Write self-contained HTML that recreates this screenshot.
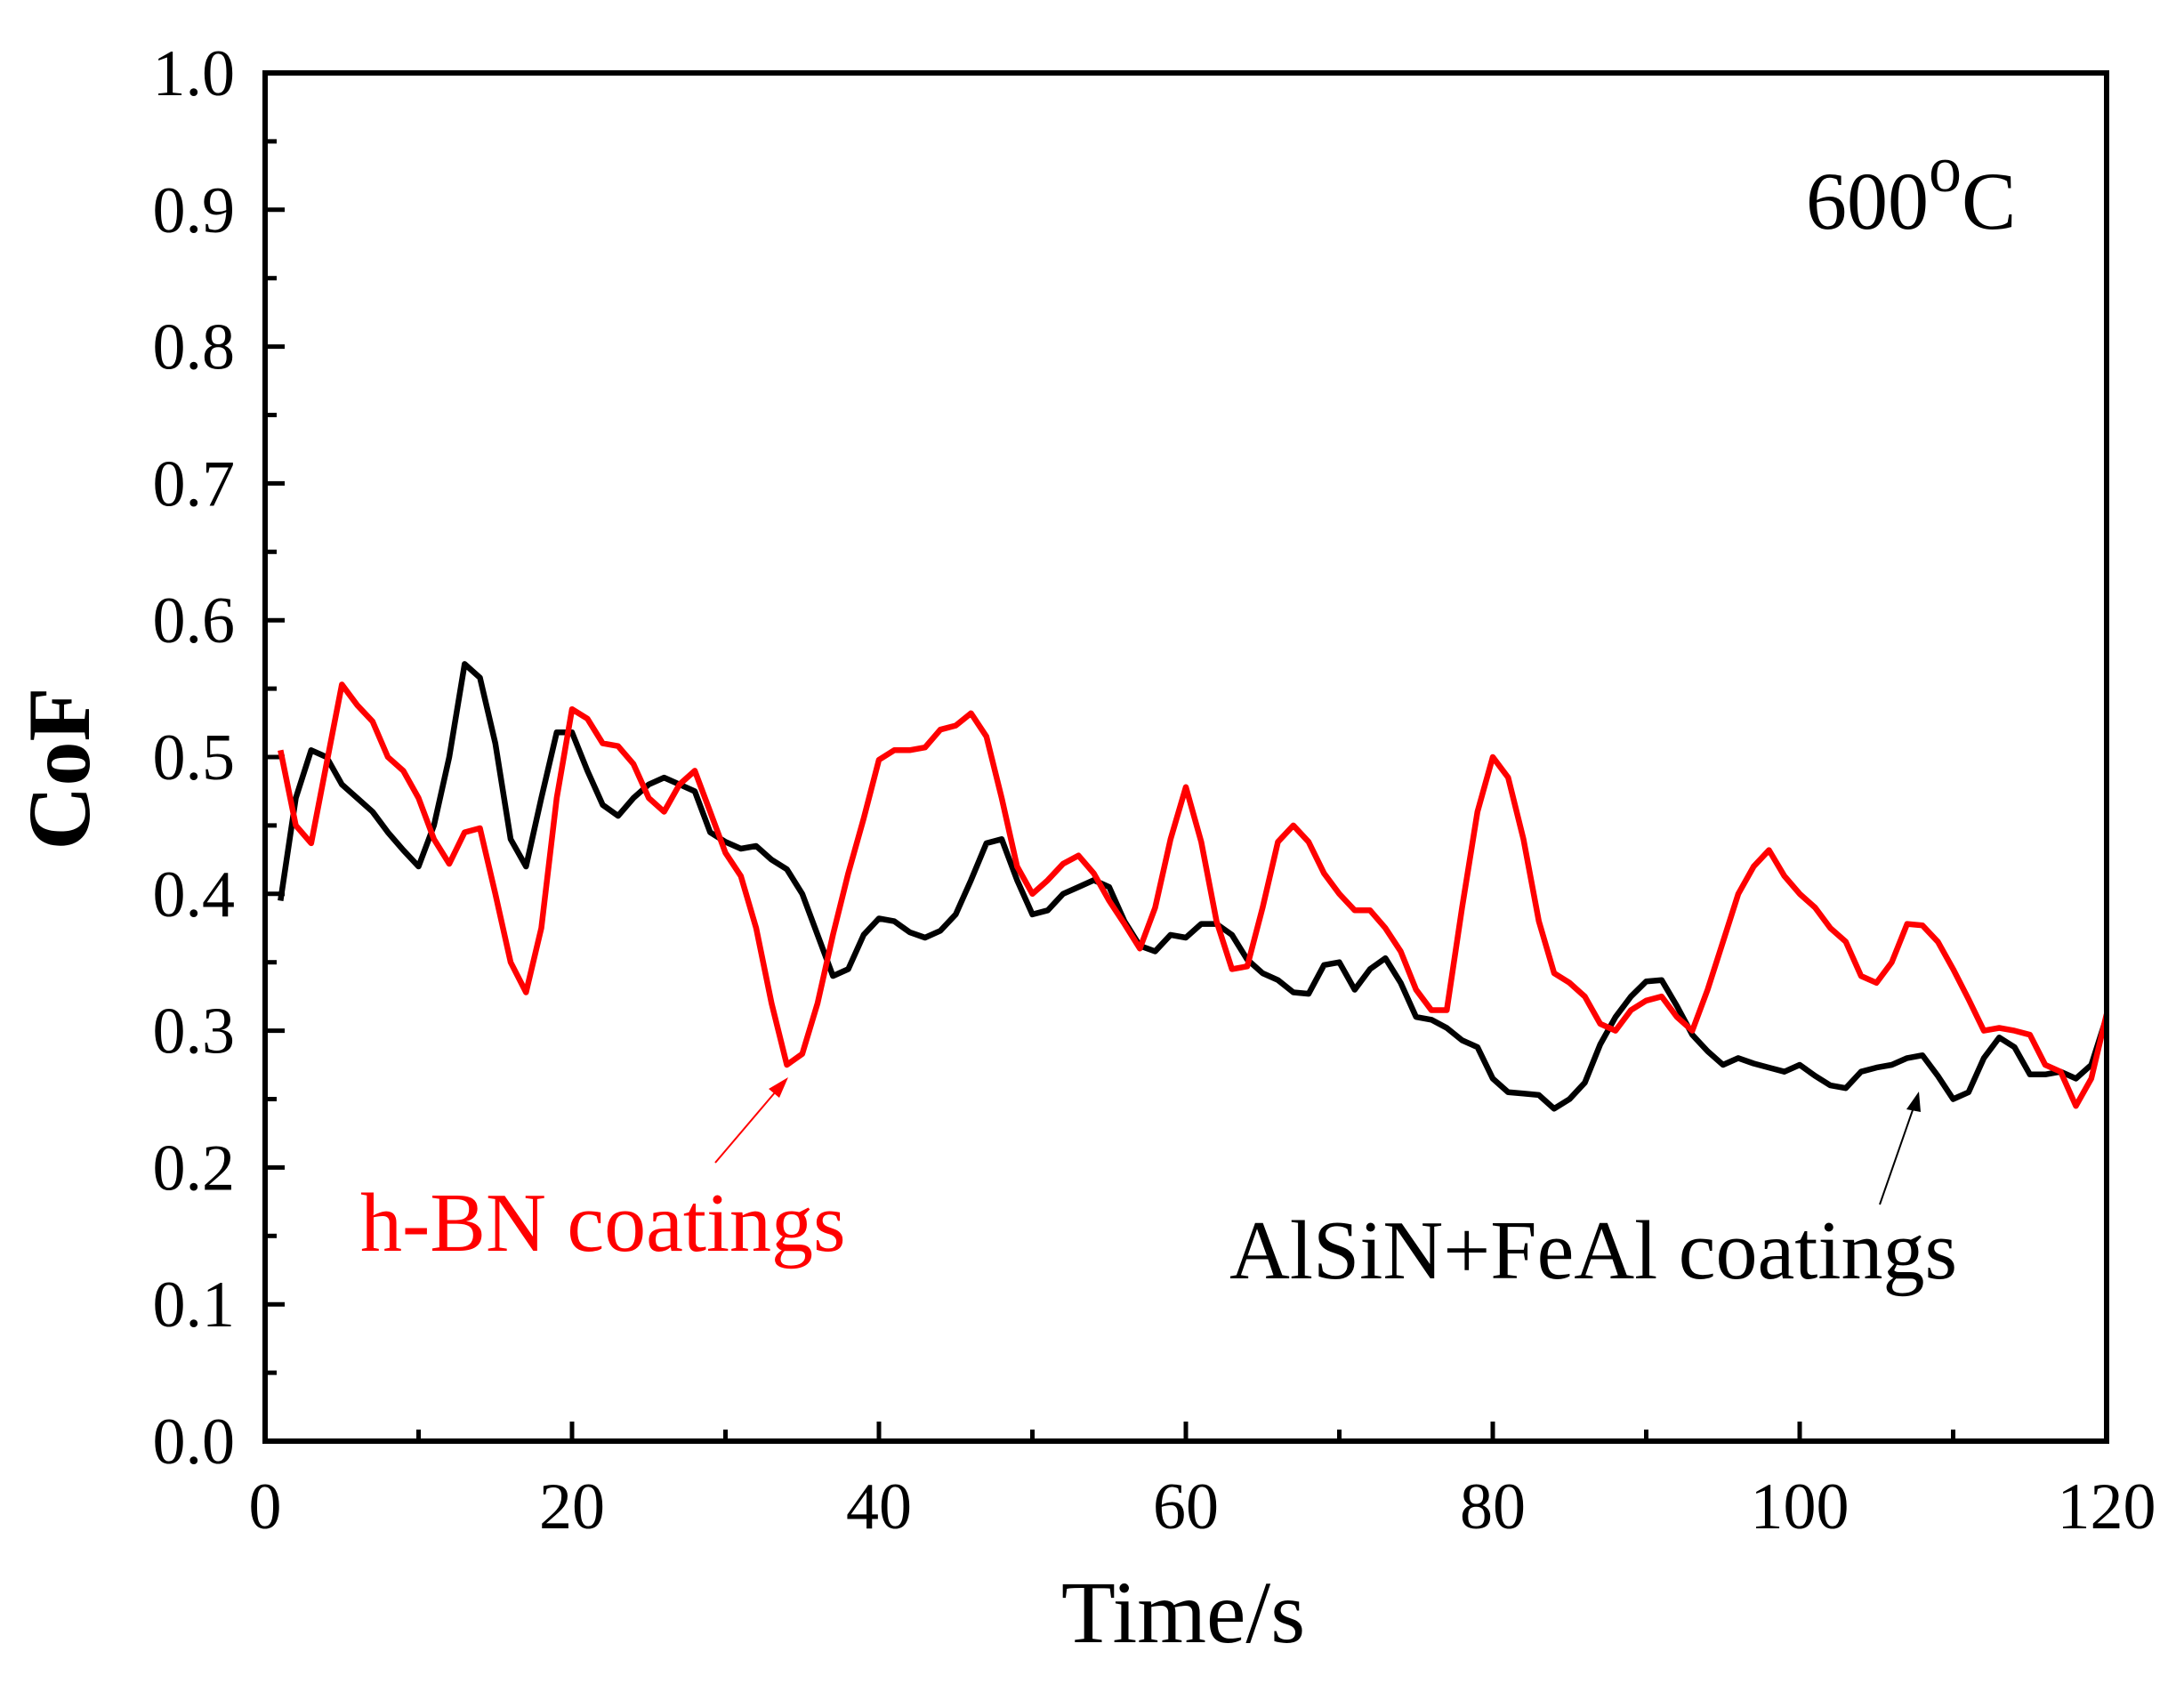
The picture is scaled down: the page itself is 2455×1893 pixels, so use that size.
<!DOCTYPE html>
<html><head><meta charset="utf-8"><style>
html,body{margin:0;padding:0;background:#fff;}
svg{display:block;}
text{font-family:"Liberation Serif",serif;}
</style></head><body>
<svg id="s" width="2455" height="1893" viewBox="0 0 2455 1893" xmlns="http://www.w3.org/2000/svg">
<rect width="2455" height="1893" fill="#fff"/>
<g id="ticks" stroke="#000" stroke-width="5"></g>
<g id="labels" font-size="74" fill="#000"></g>
<polyline id="blk" fill="none" stroke="#000" stroke-width="6.5" stroke-linejoin="round"/>
<polyline id="red" fill="none" stroke="#ff0000" stroke-width="6.5" stroke-linejoin="round"/>
<rect x="298" y="82" width="2070" height="1538" fill="none" stroke="#000" stroke-width="6"/>
<text x="1330" y="1846" font-size="100" text-anchor="middle">Time/s</text>
<text transform="translate(100,864) rotate(-90)" font-size="100" font-weight="bold" text-anchor="middle">CoF</text>
<text x="2030" y="257" font-size="92">600<tspan dy="-42" font-size="74">o</tspan><tspan dy="42">C</tspan></text>
<text x="405" y="1406" font-size="94" fill="#ff0000">h-BN coatings</text>
<text x="1382" y="1437" font-size="94" fill="#000">AlSiN+FeAl coatings</text>
<line x1="804" y1="1307" x2="872" y2="1227" stroke="#ff0000" stroke-width="2"/>
<polygon points="886,1211 864,1224 876,1234" fill="#ff0000"/>
<line x1="2113" y1="1354" x2="2151" y2="1245" stroke="#000" stroke-width="2"/>
<polygon points="2157,1227 2143,1247 2159,1250" fill="#000"/>
</svg>
<script>
var L=298,R=2368,T=82,B=1620;
function X(t){return L+(R-L)*t/120;}
function Y(v){return B-(B-T)*v;}
var ns="http://www.w3.org/2000/svg";
var tk=document.getElementById('ticks'),lb=document.getElementById('labels');
function line(a,b,c,d){var l=document.createElementNS(ns,'line');l.setAttribute('x1',a);l.setAttribute('y1',b);l.setAttribute('x2',c);l.setAttribute('y2',d);tk.appendChild(l);}
function txt(x,y,s,anc){var t=document.createElementNS(ns,'text');t.setAttribute('x',x);t.setAttribute('y',y);t.setAttribute('text-anchor',anc);t.textContent=s;lb.appendChild(t);}
for(var i=0;i<=20;i++){var v=i*0.05,y=Y(v);line(L,y,L+(i%2?13:22),y);if(i%2==0)txt(264,y+25,(i/20).toFixed(1),'end');}
for(var i=0;i<=12;i++){var x=X(i*10);line(x,B,x,B-(i%2?13:22));if(i%2==0)txt(x,1718,String(i*10),'middle');}
var blk=[0.395,0.47,0.505,0.5,0.48,0.47,0.46,0.445,0.432,0.42,0.45,0.5,0.568,0.558,0.51,0.44,0.42,0.47,0.518,0.518,0.49,0.465,0.457,0.47,0.48,0.485,0.48,0.475,0.445,0.438,0.433,0.435,0.425,0.418,0.4,0.37,0.34,0.345,0.37,0.382,0.38,0.372,0.368,0.373,0.385,0.41,0.437,0.44,0.41,0.385,0.388,0.4,0.405,0.41,0.405,0.38,0.362,0.358,0.37,0.368,0.378,0.378,0.37,0.352,0.342,0.337,0.328,0.327,0.348,0.35,0.33,0.345,0.353,0.335,0.31,0.308,0.302,0.293,0.288,0.265,0.255,0.254,0.253,0.243,0.25,0.262,0.29,0.31,0.325,0.336,0.337,0.318,0.297,0.285,0.275,0.28,0.276,0.273,0.27,0.275,0.267,0.26,0.258,0.27,0.273,0.275,0.28,0.282,0.267,0.25,0.255,0.28,0.295,0.288,0.268,0.268,0.27,0.265,0.275,0.31];
var red=[0.505,0.45,0.437,0.495,0.553,0.538,0.526,0.5,0.49,0.47,0.44,0.422,0.445,0.448,0.4,0.35,0.328,0.375,0.47,0.535,0.528,0.51,0.508,0.495,0.47,0.46,0.48,0.49,0.46,0.43,0.413,0.375,0.32,0.275,0.283,0.32,0.37,0.415,0.455,0.498,0.505,0.505,0.507,0.52,0.523,0.532,0.515,0.47,0.42,0.4,0.41,0.422,0.428,0.415,0.395,0.378,0.36,0.39,0.44,0.478,0.438,0.38,0.345,0.347,0.39,0.438,0.45,0.438,0.415,0.4,0.388,0.388,0.375,0.358,0.33,0.315,0.315,0.39,0.46,0.5,0.485,0.44,0.38,0.342,0.335,0.325,0.305,0.3,0.315,0.322,0.325,0.31,0.3,0.33,0.365,0.4,0.42,0.432,0.413,0.4,0.39,0.375,0.365,0.34,0.335,0.35,0.378,0.377,0.365,0.345,0.323,0.3,0.302,0.3,0.297,0.275,0.27,0.245,0.265,0.312];
function pts(a){return a.map(function(v,i){return X(i+1).toFixed(1)+','+Y(v).toFixed(1);}).join(' ');}
document.getElementById('blk').setAttribute('points',pts(blk));
document.getElementById('red').setAttribute('points',pts(red));
</script>
</body></html>
